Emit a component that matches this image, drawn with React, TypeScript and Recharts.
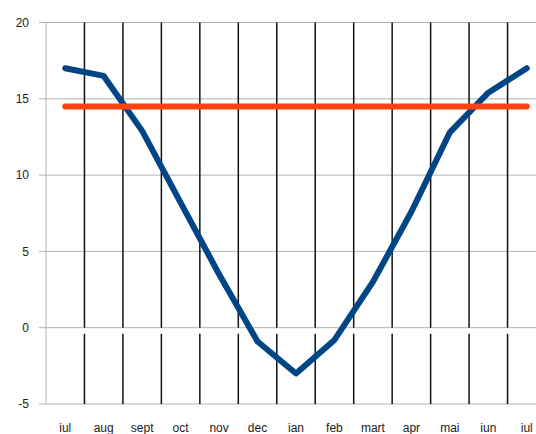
import React from "react";
import { LineChart, Line, XAxis, YAxis, CartesianGrid, ReferenceLine } from "recharts";

const months = ["iul", "aug", "sept", "oct", "nov", "dec", "ian", "feb", "mart", "apr", "mai", "iun", "iul"];
const temperature = [17.0, 16.5, 12.9, 8.2, 3.5, -0.9, -3.0, -0.8, 3.0, 7.6, 12.8, 15.4, 17.0];
const meanValue = [14.5, 14.5, 14.5, 14.5, 14.5, 14.5, 14.5, 14.5, 14.5, 14.5, 14.5, 14.5, 14.5];
const yTicks = [-5, 0, 5, 10, 15, 20];
const boundaries = [1, 2, 3, 4, 5, 6, 7, 8, 9, 10, 11, 12];

const data = months.map((m, i) => ({ x: i + 0.5, month: m, t: temperature[i], mean: meanValue[i] }));
const xTicks = data.map((d) => d.x);

const tickStyle = { fill: "#222", fontSize: 12, fontFamily: "Liberation Sans, Arial, sans-serif" };

export default function App() {
  return (
    <div style={{ position: "fixed", left: 0, top: 0, width: 536, height: 434, overflow: "hidden", background: "#fff" }}>
      <div style={{ position: "absolute", left: 8, top: 8 }}>
        <LineChart width={560} height={426} data={data} margin={{ top: 14.5, right: 22, bottom: 0, left: 0 }}>
          <CartesianGrid horizontal={true} vertical={false} stroke="#b3b3b3" strokeWidth={1} />
          <XAxis
            dataKey="x"
            type="number"
            domain={[0, 13]}
            ticks={xTicks}
            tickFormatter={(v: number) => months[Math.round(v - 0.5)]}
            axisLine={false}
            tickLine={false}
            tickSize={0}
            tickMargin={19}
            height={30}
            interval={0}
            tick={tickStyle}
          />
          <YAxis
            type="number"
            domain={[-5, 20]}
            ticks={yTicks}
            width={38}
            axisLine={{ stroke: "#b3b3b3" }}
            tickLine={{ stroke: "#b3b3b3" }}
            tickSize={7}
            tickMargin={10}
            interval={0}
            tick={tickStyle}
          />
          {boundaries.map((b) => (
            <ReferenceLine
              key={"a" + b}
              segment={[{ x: b, y: 20 }, { x: b, y: 0 }]}
              stroke="#111"
              strokeWidth={1.5}
            />
          ))}
          {boundaries.map((b) => (
            <ReferenceLine
              key={"b" + b}
              segment={[{ x: b, y: -0.4 }, { x: b, y: -5 }]}
              stroke="#111"
              strokeWidth={1.5}
            />
          ))}
          <Line
            dataKey="t"
            stroke="#004586"
            strokeWidth={6}
            strokeLinecap="round"
            strokeLinejoin="round"
            dot={false}
            activeDot={false}
            isAnimationActive={false}
          />
          <Line
            dataKey="mean"
            stroke="#ff420e"
            strokeWidth={6}
            strokeLinecap="round"
            strokeLinejoin="round"
            dot={false}
            activeDot={false}
            isAnimationActive={false}
          />
        </LineChart>
      </div>
    </div>
  );
}
